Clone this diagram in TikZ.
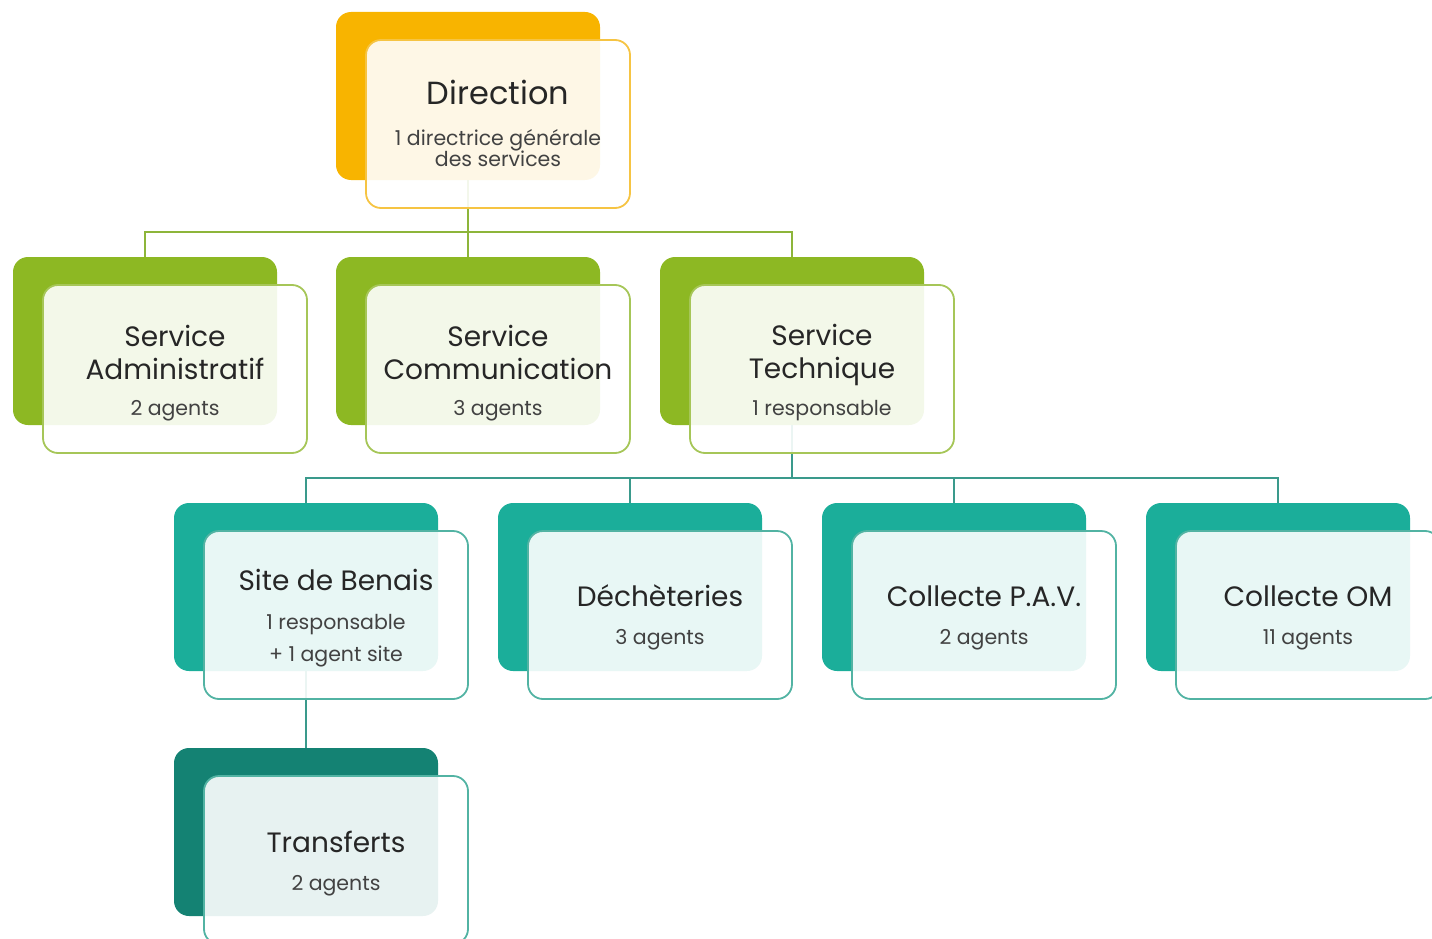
\documentclass[tikz,border=0pt]{standalone}
\usepackage{fontspec}
\setmainfont{Poppins}
\usetikzlibrary{calc}
\definecolor{orB}{HTML}{F8B400}
\definecolor{orL}{HTML}{F6C443}
\definecolor{grB}{HTML}{8DB823}
\definecolor{grL}{HTML}{A6C658}
\definecolor{teB}{HTML}{1BAE9A}
\definecolor{teL}{HTML}{52B3A3}
\definecolor{tdB}{HTML}{148273}
\definecolor{grC}{HTML}{8DB53A}
\definecolor{teC}{HTML}{3A9A8C}
\definecolor{txt}{HTML}{262626}
\definecolor{sub}{HTML}{424242}
\tikzset{
  backbox/.style={rectangle, rounded corners=15pt, minimum width=264pt, minimum height=168pt, inner sep=0pt, fill=#1},
  frontbox/.style={rectangle, rounded corners=15pt, minimum width=264pt, minimum height=168pt, inner sep=0pt,
     fill=white, fill opacity=0.9, draw=#1, line width=1.8pt},
  conn/.style={draw=#1, line width=2pt},
  ttl/.style={anchor=base, inner sep=0pt, text=txt, font=\fontsize{28}{34}\selectfont},
  bigttl/.style={anchor=base, inner sep=0pt, text=txt, font=\fontsize{32}{38}\selectfont},
  subl/.style={anchor=base, inner sep=0pt, text=sub, font=\fontsize{20.5}{24}\selectfont},
}
\begin{document}
\begin{tikzpicture}[x=1pt,y=-1pt]
\useasboundingbox (0,0) rectangle (1432,939);
% back boxes
\node[backbox=orB] (dirB) at (468,96) {};
\node[backbox=grB] (admB) at (145,341) {};
\node[backbox=grB] (comB) at (468,341) {};
\node[backbox=grB] (tecB) at (792,341) {};
\node[backbox=teB] (benB) at (306,587) {};
\node[backbox=teB] (decB) at (630,587) {};
\node[backbox=teB] (pavB) at (954,587) {};
\node[backbox=teB] (omB) at (1278,587) {};
\node[backbox=tdB] (traB) at (306,832) {};
% connectors
\draw[conn=grC] (dirB.south) -- ++(0,52) -| (admB.north);
\draw[conn=grC] (dirB.south) -- (comB.north);
\draw[conn=grC] (dirB.south) -- ++(0,52) -| (tecB.north);
\draw[conn=teC] (tecB.south) -- ++(0,53) -| (benB.north);
\draw[conn=teC] (tecB.south) -- ++(0,53) -| (decB.north);
\draw[conn=teC] (tecB.south) -- ++(0,53) -| (pavB.north);
\draw[conn=teC] (tecB.south) -- ++(0,53) -| (omB.north);
\draw[conn=teC] (benB.south) -- (traB.north);
% front boxes
\node[frontbox=orL] (dir) at (498,124) {};
\node[frontbox=grL] (adm) at (175,369) {};
\node[frontbox=grL] (com) at (498,369) {};
\node[frontbox=grL] (tec) at (822,369) {};
\node[frontbox=teL] (ben) at (336,615) {};
\node[frontbox=teL] (dec) at (660,615) {};
\node[frontbox=teL] (pav) at (984,615) {};
\node[frontbox=teL] (om) at (1308,615) {};
\node[frontbox=teL] (tra) at (336,860) {};
% texts
\node[bigttl] (dirT) at ($(dir.center)+(0,-19)$) {Direction};
\node[subl] (dirS1) at ($(dir.center)+(0,22)$) {1 directrice générale};
\node[subl] (dirS2) at ($(dir.center)+(0,43)$) {des services};
\node[ttl] (admT1) at ($(adm.center)+(0,-23)$) {Service};
\node[ttl] (admT2) at ($(adm.center)+(0,10)$) {Administratif};
\node[subl] (admS) at ($(adm.center)+(0,46)$) {2 agents};
\node[ttl] (comT1) at ($(com.center)+(0,-23)$) {Service};
\node[ttl] (comT2) at ($(com.center)+(0,10)$) {Communication};
\node[subl] (comS) at ($(com.center)+(0,46)$) {3 agents};
\node[ttl] (tecT1) at ($(tec.center)+(0,-24)$) {Service};
\node[ttl] (tecT2) at ($(tec.center)+(0,9)$) {Technique};
\node[subl] (tecS) at ($(tec.center)+(0,46)$) {1 responsable};
\node[ttl] (benT) at ($(ben.center)+(0,-25)$) {Site de Benais};
\node[subl] (benS1) at ($(ben.center)+(0,14)$) {1 responsable};
\node[subl] (benS2) at ($(ben.center)+(0,46)$) {+ 1 agent site};
\node[ttl] (decT) at ($(dec.center)+(0,-9)$) {Déchèteries};
\node[subl] (decS) at ($(dec.center)+(0,29)$) {3 agents};
\node[ttl] (pavT) at ($(pav.center)+(0,-9)$) {Collecte P.A.V.};
\node[subl] (pavS) at ($(pav.center)+(0,29)$) {2 agents};
\node[ttl] (omT) at ($(om.center)+(0,-9)$) {Collecte OM};
\node[subl] (omS) at ($(om.center)+(0,29)$) {11 agents};
\node[ttl] (traT) at ($(tra.center)+(0,-8)$) {Transferts};
\node[subl] (traS) at ($(tra.center)+(0,30)$) {2 agents};
\end{tikzpicture}
\end{document}
